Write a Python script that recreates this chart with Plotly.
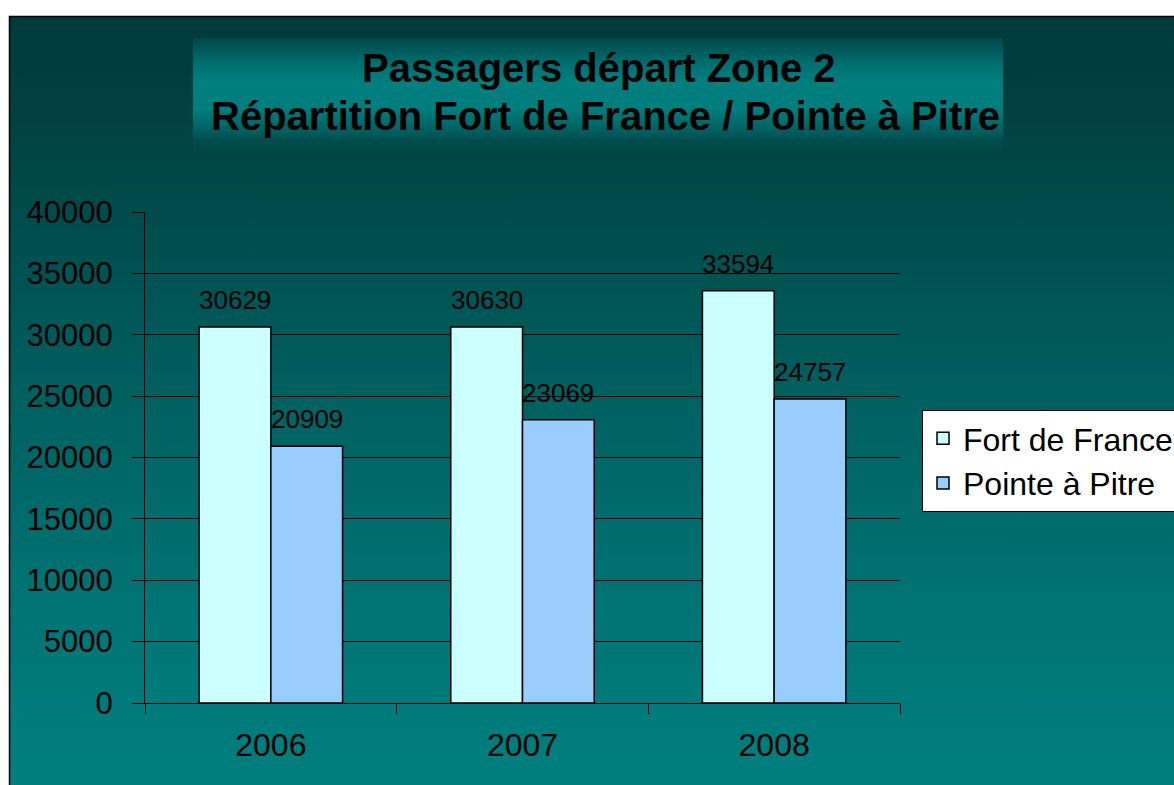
import base64
import plotly.graph_objects as go

# ---------------- data ----------------
years = ["2006", "2007", "2008"]
fort_de_france = [30629, 30630, 33594]
pointe_a_pitre = [20909, 23069, 24757]
series_names = ["Fort de France", "Pointe à Pitre"]
series_colors = ["#CCFFFF", "#99CCFF"]
title_lines = ["Passagers départ Zone 2", "Répartition Fort de France / Pointe à Pitre"]
y_ticks = list(range(0, 40001, 5000))

# ---------------- layout geometry ----------------
W, H = 1174, 785
L, R, T, B = 145, 274, 212, 82
PW = W - L - R
PH = H - T - B
FONT = "Liberation Sans, Arial, sans-serif"
BARGAP = 0.43


def px_x(px):
    return (px - L) / PW


def px_y(py):
    return (H - B - py) / PH


def svg_gradient(w, h, stops):
    st = "".join(f'<stop offset="{o}" stop-color="{c}"/>' for o, c in stops)
    svg = (f'<svg xmlns="http://www.w3.org/2000/svg" width="{w}" height="{h}" '
           f'viewBox="0 0 {w} {h}" preserveAspectRatio="none"><defs>'
           f'<linearGradient id="g" x1="0" y1="0" x2="0" y2="1">{st}</linearGradient>'
           f'</defs><rect x="0" y="0" width="{w}" height="{h}" fill="url(#g)"/></svg>')
    return "data:image/svg+xml;base64," + base64.b64encode(svg.encode("utf-8")).decode()


bg_src = svg_gradient(1165, 769, [
    (0.0, "#003b3b"), (0.11, "#004040"), (0.30, "#004f4f"),
    (0.52, "#006262"), (0.76, "#007373"), (0.89, "#007a7a"), (1.0, "#007e7e")])
title_src = svg_gradient(810, 115, [
    (0.0, "#004848"), (0.22, "#006e6e"), (0.38, "#007f7f"), (0.62, "#007d7d"),
    (0.80, "#006060"), (0.90, "#004c4c"), (1.0, "#004545")])

fig = go.Figure()
for name, vals, col in zip(series_names, [fort_de_france, pointe_a_pitre], series_colors):
    fig.add_trace(go.Bar(
        x=years, y=vals, name=name,
        marker=dict(color=col, line=dict(color="black", width=1.5)),
        hoverinfo="x+y+name",
    ))

# data labels above bars
bar_w = (1 - BARGAP) / 2
annotations = []
for si, vals in enumerate([fort_de_france, pointe_a_pitre]):
    off = (si - 0.5) * bar_w
    for ci, v in enumerate(vals):
        annotations.append(dict(
            x=ci + off, y=v, xref="x", yref="y", text=str(v), showarrow=False,
            yanchor="bottom", xanchor="center", yshift=10,
            font=dict(family=FONT, size=26, color="black")))

# title lines
for txt, cx, cy in zip(title_lines, [599, 605], [68, 116]):
    annotations.append(dict(
        x=px_x(cx), y=px_y(cy), xref="paper", yref="paper",
        text=f"<b>{txt}</b>", showarrow=False, xanchor="center", yanchor="middle",
        font=dict(family=FONT, size=40, color="black")))

fig.update_layout(
    width=W, height=H,
    margin=dict(l=L, r=R, t=T, b=B, autoexpand=False),
    paper_bgcolor="white",
    plot_bgcolor="rgba(0,0,0,0)",
    barmode="group", bargap=BARGAP, bargroupgap=0,
    font=dict(family=FONT, size=32, color="black"),
    showlegend=True,
    legend=dict(
        x=px_x(922), y=px_y(410), xanchor="left", yanchor="top",
        bgcolor="white", bordercolor="black", borderwidth=1,
        font=dict(family=FONT, size=32, color="black"),
        traceorder="normal",
    ),
    images=[
        dict(source=bg_src, xref="paper", yref="paper", x=px_x(9), y=px_y(16),
             sizex=(W - 9) / PW, sizey=(H - 16) / PH, xanchor="left", yanchor="top",
             sizing="stretch", layer="below"),
        dict(source=title_src, xref="paper", yref="paper", x=px_x(193), y=px_y(38),
             sizex=(1003 - 193) / PW, sizey=(153 - 38) / PH, xanchor="left", yanchor="top",
             sizing="stretch", layer="below"),
    ],
    shapes=[
        dict(type="rect", xref="paper", yref="paper", x0=px_x(9.5), y0=px_y(H + 5),
             x1=px_x(W + 5), y1=px_y(16.5), line=dict(color="black", width=1.5),
             fillcolor="rgba(0,0,0,0)", layer="above"),
    ],
    annotations=annotations,
    xaxis=dict(
        type="category", showgrid=False, showline=True, linecolor="black", linewidth=1,
        ticks="outside", tickson="boundaries", ticklen=10, tickcolor="black", tickwidth=1,
        ticklabelstandoff=14, tickfont=dict(family=FONT, size=32, color="black"),
        zeroline=False,
    ),
    yaxis=dict(
        range=[0, 40000], tickvals=y_ticks, ticktext=[str(v) for v in y_ticks],
        showgrid=True, gridcolor="black", gridwidth=1,
        showline=True, linecolor="black", linewidth=1,
        ticks="outside", ticklen=12, tickcolor="black", tickwidth=1,
        ticklabelstandoff=13, tickfont=dict(family=FONT, size=31, color="black"),
        zeroline=False,
    ),
)

fig.write_html(
    "out.html",
    config={"displayModeBar": False},
    post_script="document.body.style.margin='0';document.body.style.overflow='hidden';",
)
